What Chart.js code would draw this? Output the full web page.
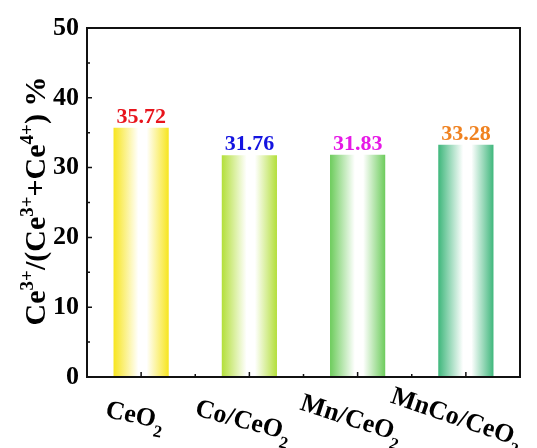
<!DOCTYPE html>
<html><head><meta charset="utf-8">
<script src="https://cdn.jsdelivr.net/npm/chart.js@4.4.0/dist/chart.umd.min.js"></script>
<style>html,body{margin:0;padding:0;background:#fff}#wrap{width:537px;height:448px}</style>
</head><body><div id="wrap"><canvas id="c" width="537" height="448"></canvas></div>
<script>
const categories = ["CeO2", "Co/CeO2", "Mn/CeO2", "MnCo/CeO2"];
const labelMain = ["CeO", "Co/CeO", "Mn/CeO", "MnCo/CeO"];
const labelSub = ["2", "2", "2", "2"];
const values = [35.72, 31.76, 31.83, 33.28];
const valueText = ["35.72", "31.76", "31.83", "33.28"];
const barColors = ["#f7e51e", "#b3df3a", "#6dcc5c", "#3fb77c"];
const labelColors = ["#e8141c", "#1414e0", "#e619e6", "#f08220"];
const yTicks = [0, 10, 20, 30, 40, 50];
const yMinor = [5, 15, 25, 35, 45];

const SERIF = '"Liberation Serif", "Times New Roman", serif';

function barGradient(ctx) {
  const chart = ctx.chart;
  const xs = chart.scales.x;
  if (!xs || !chart.chartArea || ctx.dataIndex === undefined) return barColors[ctx.dataIndex || 0];
  const c = xs.getPixelForValue(ctx.dataIndex);
  const w = (xs.width / categories.length) * 0.51;
  const g = chart.ctx.createLinearGradient(c - w / 2, 0, c + w / 2, 0);
  const col = barColors[ctx.dataIndex];
  g.addColorStop(0, col);
  g.addColorStop(0.45, "#ffffff");
  g.addColorStop(0.6, "#ffffff");
  g.addColorStop(1, col);
  return g;
}

const decor = {
  id: "decor",
  afterDatasetsDraw(chart) {
    const ctx = chart.ctx;
    const a = chart.chartArea;
    const xs = chart.scales.x, ys = chart.scales.y;
    ctx.save();
    ctx.strokeStyle = "#111";
    ctx.lineWidth = 2;
    ctx.strokeRect(a.left, a.top, a.right - a.left, a.bottom - a.top);
    ctx.lineWidth = 1.5;
    ctx.beginPath();
    yTicks.forEach(v => { const y = ys.getPixelForValue(v); ctx.moveTo(a.left, y); ctx.lineTo(a.left + 5, y); });
    yMinor.forEach(v => { const y = ys.getPixelForValue(v); ctx.moveTo(a.left, y); ctx.lineTo(a.left + 3, y); });
    categories.forEach((c, i) => { const x = xs.getPixelForValue(i); ctx.moveTo(x, a.bottom); ctx.lineTo(x, a.bottom - 5); });
    for (let i = 0; i < categories.length - 1; i++) {
      const x = (xs.getPixelForValue(i) + xs.getPixelForValue(i + 1)) / 2;
      ctx.moveTo(x, a.bottom); ctx.lineTo(x, a.bottom - 3);
    }
    ctx.stroke();

    const meta = chart.getDatasetMeta(0);
    ctx.font = "bold 22px " + SERIF;
    ctx.textAlign = "center";
    ctx.textBaseline = "alphabetic";
    meta.data.forEach((el, i) => {
      ctx.fillStyle = labelColors[i];
      ctx.fillText(valueText[i], el.x, el.y - 5);
    });

    const angles = [12, 15, 18, 19];
    const offY = [38, 43, 41, 40];
    const offX = [-6, -6, -6, -9];
    ctx.fillStyle = "#000";
    categories.forEach((c, i) => {
      const x = xs.getPixelForValue(i) + offX[i];
      const y = a.bottom + offY[i];
      ctx.save();
      ctx.translate(x, y);
      ctx.rotate(angles[i] * Math.PI / 180);
      ctx.font = "bold 26px " + SERIF;
      const w1 = ctx.measureText(labelMain[i]).width;
      ctx.font = "bold 17px " + SERIF;
      const w2 = ctx.measureText(labelSub[i]).width;
      const start = -(w1 + w2) / 2;
      ctx.textAlign = "left";
      ctx.font = "bold 26px " + SERIF;
      ctx.fillText(labelMain[i], start, 8);
      ctx.font = "bold 17px " + SERIF;
      ctx.fillText(labelSub[i], start + w1, 17);
      ctx.restore();
    });

    const parts = [["Ce", 0], ["3+", 1], ["/(Ce", 0], ["3+", 1], ["+Ce", 0], ["4+", 1], [") %", 0]];
    const big = "bold 30px " + SERIF, small = "bold 19px " + SERIF;
    let total = 0;
    parts.forEach(p => { ctx.font = p[1] ? small : big; total += ctx.measureText(p[0]).width; });
    ctx.save();
    ctx.translate(45, 201);
    ctx.rotate(-Math.PI / 2);
    ctx.textAlign = "left";
    let xx = -total / 2;
    parts.forEach(p => {
      ctx.font = p[1] ? small : big;
      ctx.fillText(p[0], xx, p[1] ? -12 : 0);
      xx += ctx.measureText(p[0]).width;
    });
    ctx.restore();
    ctx.restore();
  }
};

new Chart(document.getElementById("c"), {
  type: "bar",
  data: {
    labels: categories,
    datasets: [{
      data: values,
      backgroundColor: barGradient,
      borderWidth: 0,
      categoryPercentage: 1,
      barPercentage: 0.51
    }]
  },
  options: {
    responsive: false,
    animation: false,
    devicePixelRatio: 1,
    layout: { padding: { left: 0, right: 17, top: 28, bottom: 0 } },
    plugins: { legend: { display: false }, tooltip: { enabled: false } },
    scales: {
      x: {
        grid: { display: false, drawTicks: false },
        border: { display: false },
        ticks: { display: false },
        afterFit(s) { s.height = 71; }
      },
      y: {
        min: 0, max: 50,
        grid: { display: false, drawTicks: false },
        border: { display: false },
        ticks: {
          stepSize: 10,
          padding: 8,
          color: "#000",
          font: { family: SERIF, size: 26, weight: "bold" }
        },
        afterFit(s) { s.width = 87; }
      }
    }
  },
  plugins: [decor]
});
</script></body></html>
